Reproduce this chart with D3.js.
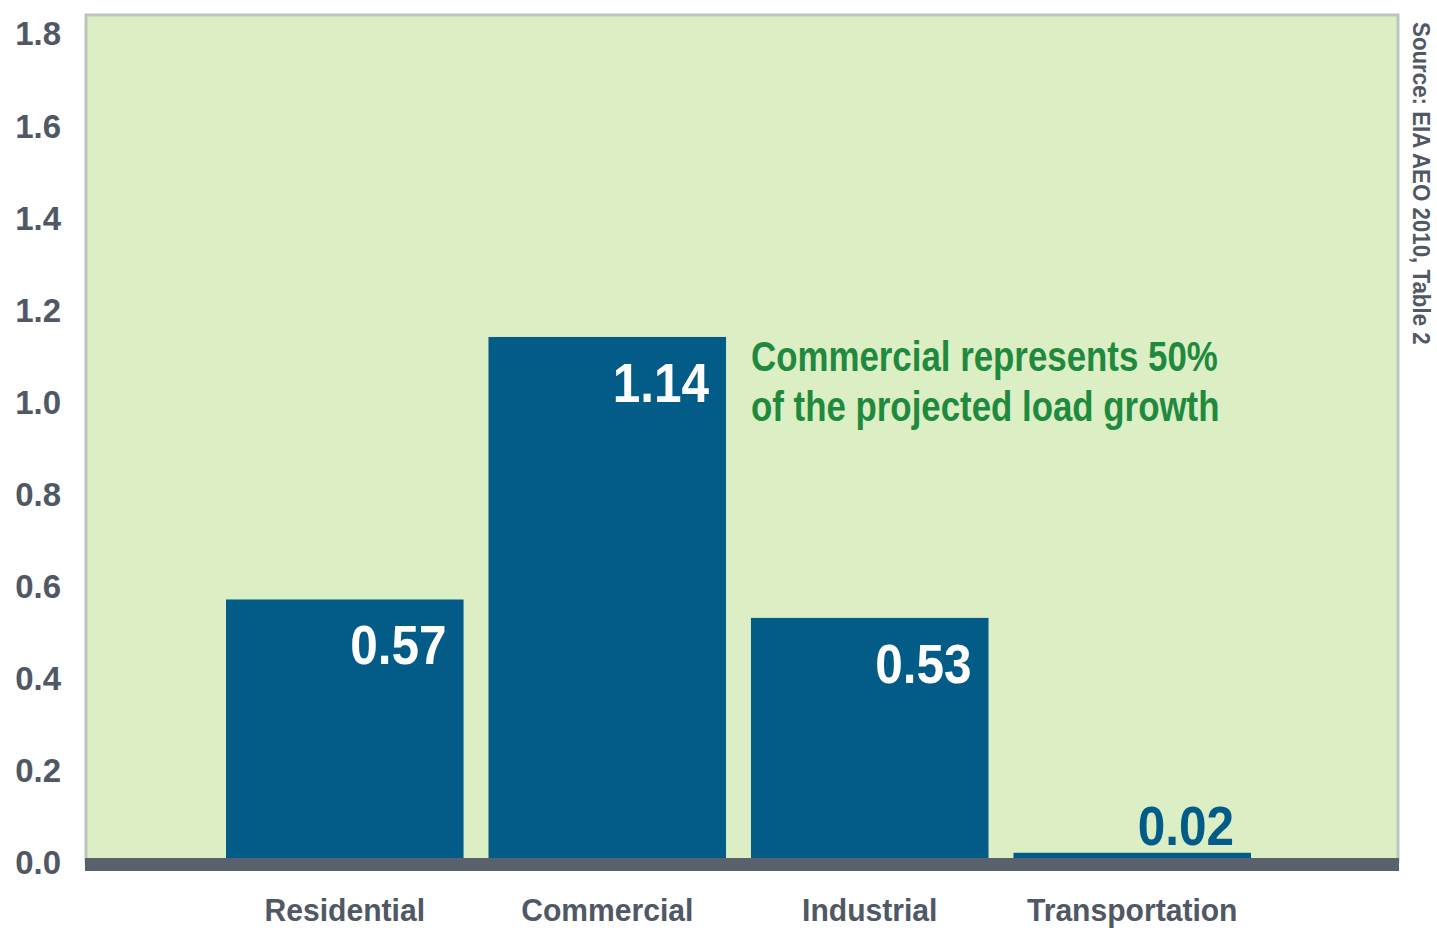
<!DOCTYPE html>
<html>
<head>
<meta charset="utf-8">
<script src="https://cdn.jsdelivr.net/npm/d3@7"></script>
<style>
  html, body { margin: 0; padding: 0; background: #ffffff; }
  svg { display: block; }
  text { font-family: "Liberation Sans", Arial, Helvetica, sans-serif; font-weight: bold; }
</style>
</head>
<body>
<svg id="chart" width="1437" height="931"></svg>
<script>
// Projected load growth by sector
const categories = ["Residential", "Commercial", "Industrial", "Transportation"];
const values = [0.57, 1.14, 0.53, 0.02];
const yTicks = [0, 0.2, 0.4, 0.6, 0.8, 1.0, 1.2, 1.4, 1.6, 1.8];
const noteLines = ["Commercial represents 50%", "of the projected load growth"];
const sourceText = "Source: EIA AEO 2010, Table 2";

const panel = { left: 86, right: 1398, top: 15 };
const barColor = "#035b87";
const greyText = "#4f5864";

const svg = d3.select("#chart");

const y = d3.scaleLinear().domain([0, 1.8]).range([862, 33]);
const x = d3.scaleBand()
  .domain(categories)
  .range([226, 1251])
  .paddingInner(0.095)
  .paddingOuter(0);

// narrow-type look: squeeze glyphs horizontally around the anchor point
function squeeze(sel, s) {
  sel.each(function () {
    const t = d3.select(this);
    const px = +t.attr("x") || 0, py = +t.attr("y") || 0;
    t.attr("x", 0).attr("y", 0)
     .attr("transform", `translate(${px},${py}) scale(${s},1)`);
  });
}

// background panel
svg.append("rect")
  .attr("x", panel.left)
  .attr("y", panel.top)
  .attr("width", panel.right - panel.left)
  .attr("height", y(0) - panel.top)
  .attr("fill", "#dbeec4")
  .attr("stroke", "#bcc6bd")
  .attr("stroke-width", 3);

// bars
svg.append("g").selectAll("rect")
  .data(categories)
  .join("rect")
  .attr("x", d => x(d))
  .attr("width", x.bandwidth())
  .attr("y", (d, i) => y(values[i]))
  .attr("height", (d, i) => y(0) - y(values[i]))
  .attr("fill", barColor);

// baseline band
svg.append("rect")
  .attr("x", panel.left - 1)
  .attr("y", y(0) - 4)
  .attr("width", panel.right - panel.left + 2)
  .attr("height", 13)
  .attr("fill", "#58616c");

// value labels: inside tall bars, above short ones
const inside = i => (y(0) - y(values[i])) > 80;
svg.append("g").selectAll("text")
  .data(categories)
  .join("text")
  .attr("x", d => x(d) + x.bandwidth() - 17)
  .attr("y", (d, i) => inside(i) ? y(values[i]) + 65 : y(values[i]) - 8)
  .attr("text-anchor", "end")
  .attr("font-size", 55)
  .attr("fill", (d, i) => inside(i) ? "#ffffff" : barColor)
  .text((d, i) => d3.format(".2f")(values[i]))
  .call(squeeze, 0.9);

// y axis labels
const yAxis = d3.axisLeft(y)
  .tickValues(yTicks)
  .tickFormat(d3.format(".1f"))
  .tickSize(0)
  .tickPadding(0);
const yg = svg.append("g")
  .attr("transform", "translate(61,0)")
  .attr("font-family", null)
  .attr("font-size", null)
  .call(yAxis);
yg.select(".domain").remove();
yg.selectAll("text")
  .attr("font-size", 33)
  .attr("fill", greyText)
  .attr("dy", "0.36em");

// category labels
const xAxis = d3.axisBottom(x).tickSize(0).tickPadding(0);
const xg = svg.append("g")
  .attr("transform", "translate(0,921)")
  .attr("font-family", null)
  .attr("font-size", null)
  .call(xAxis);
xg.select(".domain").remove();
xg.selectAll("text")
  .attr("font-size", 32)
  .attr("fill", greyText)
  .attr("dy", 0)
  .attr("y", 0)
  .call(squeeze, 0.94);

// annotation
svg.append("g").selectAll("text")
  .data(noteLines)
  .join("text")
  .attr("x", 751)
  .attr("y", (d, i) => 371 + i * 50)
  .attr("font-size", 42)
  .attr("fill", "#1f8a3d")
  .text(d => d)
  .call(squeeze, 0.83);

// source note, rotated
svg.append("text")
  .attr("transform", "translate(1413,22) rotate(90) scale(0.93,1)")
  .attr("font-size", 24)
  .attr("fill", greyText)
  .text(sourceText);
</script>
</body>
</html>
